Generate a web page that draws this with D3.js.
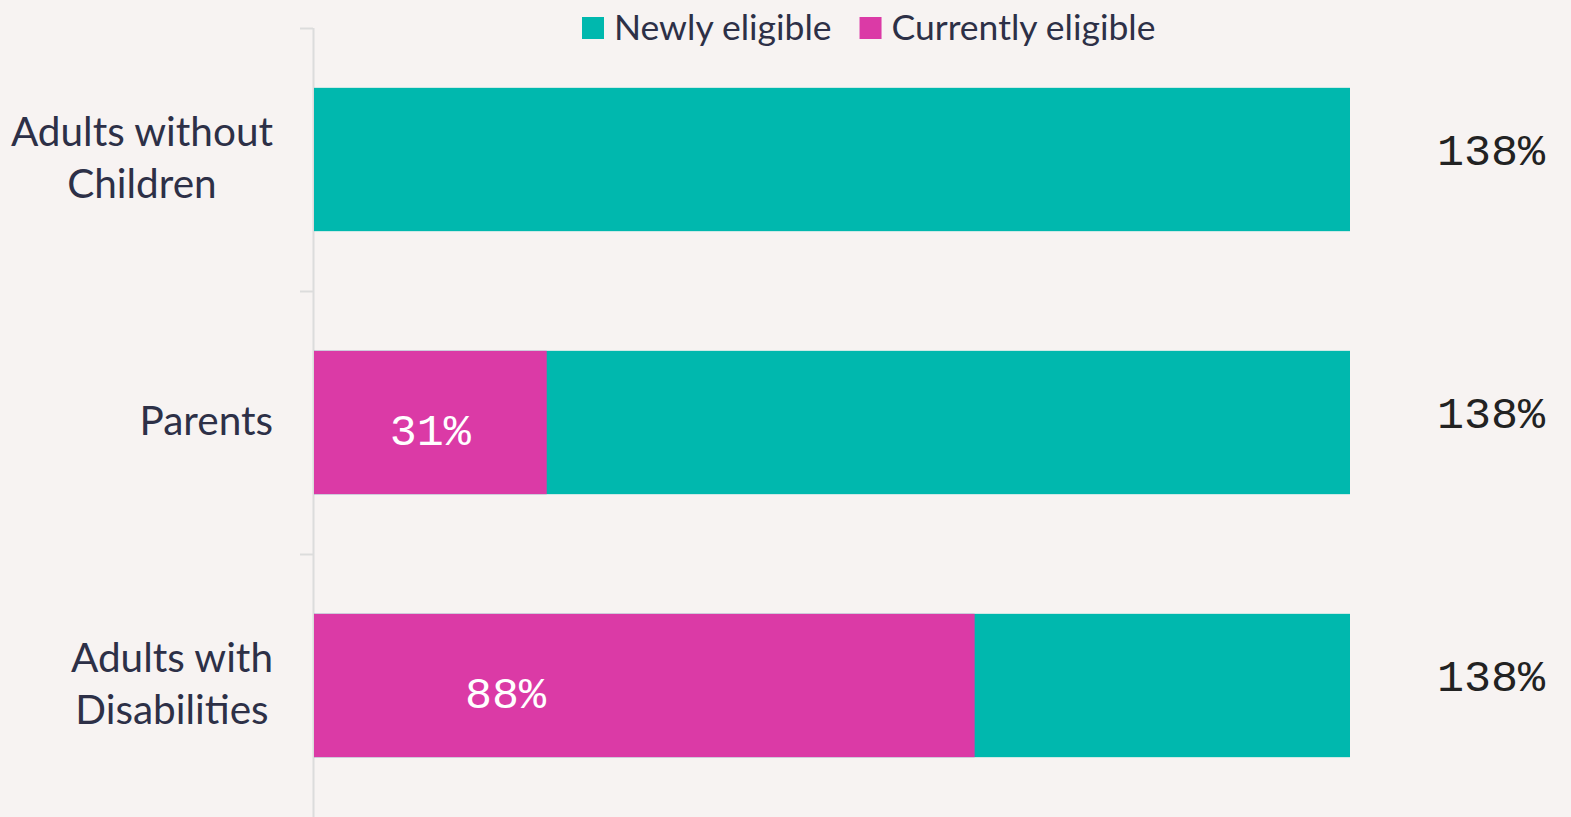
<html>
  <head>
    <title>eligibility</title>
    <script src="https://d3js.org/d3.v7.min.js"></script>
    <style>
      body { margin:0; background:#f7f3f2; }
    </style>
  </head>
  <body>
    <div id='wrapper'></div>
    <script>
      // data
      var categories = ["Adults without Children", "Parents", "Adults with Disabilities"];
      var categoryLines = [["Adults without", "Children"], ["Parents"], ["Adults with", "Disabilities"]];
      var currentlyEligible = [0, 31, 88];
      var incomeLimit = [138, 138, 138];
      var seriesNames = ["Newly eligible", "Currently eligible"];
      // where the inner labels sit, in % units (not always centred in the original)
      var innerLabelAt = [0, 15.5, 25.5];

      var width = 1571, height = 817;
      var teal = "#00b8ae", pink = "#db3aa6", ink = "#2d3047";
      var labelFont = "'Source Sans Pro', Lato, 'Noto Sans', sans-serif";
      var monoFont = "'Liberation Mono', Cousine, 'DejaVu Sans Mono', monospace";

      var svg = d3.select("#wrapper").append("svg")
        .attr("width", width).attr("height", height);
      svg.append("rect").attr("width", width).attr("height", height).attr("fill", "#f7f3f2");

      var xScale = d3.scaleLinear().domain([0, 138]).range([314, 1350]);
      var yScale = d3.scaleBand().domain(categories).range([28, 817])
        .paddingInner(0.455).paddingOuter(0.2275);
      var step = yScale.step();

      // axis line + ticks at band edges
      var axis = svg.append("g");
      axis.append("line").attr("x1", 313.5).attr("x2", 313.5).attr("y1", 28).attr("y2", height)
        .attr("stroke", "#dcdcdc").attr("stroke-width", 2);
      categories.forEach(function(c) {
        var yb = Math.round(yScale(c) - step * yScale.paddingInner() / 2) + 0.5;
        axis.append("line").attr("x1", 300).attr("x2", 313).attr("y1", yb).attr("y2", yb)
          .attr("stroke", "#dcdcdc").attr("stroke-width", 2);
      });

      // bars
      categories.forEach(function(c, i) {
        var y0 = yScale(c), bh = yScale.bandwidth();
        svg.append("rect").attr("x", xScale(0)).attr("y", y0)
          .attr("width", xScale(incomeLimit[i]) - xScale(0)).attr("height", bh).attr("fill", teal);
        if (currentlyEligible[i] > 0) {
          svg.append("rect").attr("x", xScale(0)).attr("y", y0)
            .attr("width", xScale(currentlyEligible[i]) - xScale(0)).attr("height", bh).attr("fill", pink);
          svg.append("text").attr("x", xScale(innerLabelAt[i])).attr("y", y0 + bh / 2 + 11)
            .attr("text-anchor", "middle").attr("dominant-baseline", "middle")
            .style("font-family", monoFont).style("font-size", "45px").attr("fill", "#fff")
            .text(currentlyEligible[i] + "%");
        }
        svg.append("text").attr("x", xScale(incomeLimit[i]) + 141).attr("y", y0 + bh / 2 - 6)
          .attr("text-anchor", "middle").attr("dominant-baseline", "middle")
          .style("font-family", monoFont).style("font-size", "45px").attr("fill", "#222")
          .text(incomeLimit[i] + "%");
      });

      // category labels, centred block with right edge at 273
      categories.forEach(function(c, i) {
        var lines = categoryLines[i];
        var g = svg.append("g");
        var lh = 52;
        var yc = yScale(c) + yScale.bandwidth() / 2 + 2;
        var t = g.selectAll("text").data(lines).enter().append("text")
          .attr("y", function(d, j) { return yc + (j - (lines.length - 1) / 2) * lh; })
          .attr("dominant-baseline", "middle").attr("text-anchor", "middle")
          .style("font-family", labelFont).style("font-size", "40.5px").attr("fill", ink)
          .text(function(d) { return d; });
        var maxW = 0;
        t.each(function() { maxW = Math.max(maxW, this.getComputedTextLength()); });
        t.attr("x", 273 - maxW / 2);
      });

      // legend
      var legend = svg.append("g");
      var lx = 582;
      [teal, pink].forEach(function(col, i) {
        legend.append("rect").attr("x", lx).attr("y", 17).attr("width", 22).attr("height", 22).attr("fill", col);
        var txt = legend.append("text").attr("x", lx + 32).attr("y", 31)
          .attr("dominant-baseline", "middle")
          .style("font-family", labelFont).style("font-size", "35.5px").attr("fill", ink)
          .text(seriesNames[i]);
        lx += 32 + txt.node().getComputedTextLength() + 28;
      });
    </script>
  </body>
</html>
